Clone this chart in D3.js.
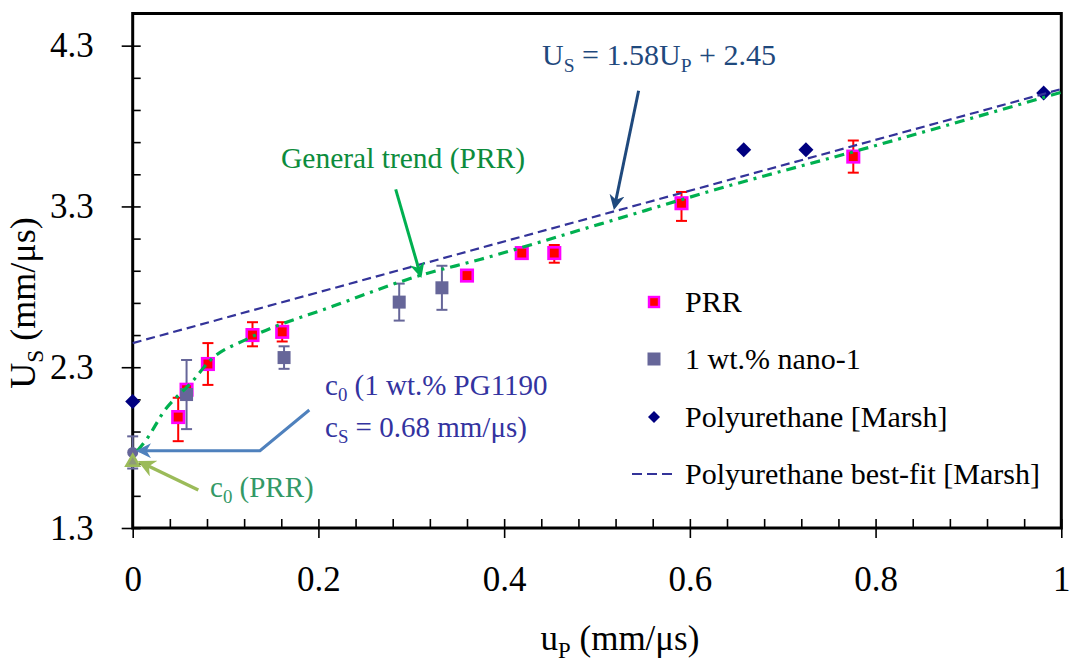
<!DOCTYPE html>
<html><head><meta charset="utf-8">
<script src="https://cdn.jsdelivr.net/npm/d3@7"></script>
<style>
body{margin:0;background:#fff}
svg{display:block}
text{font-family:"Liberation Serif","Times New Roman",serif}
</style>
</head><body>
<svg id="chart" width="1070" height="668"></svg>
<script>
// ---------- data ----------
const prrU      = [0.049, 0.058, 0.081, 0.129, 0.161, 0.360, 0.419, 0.454, 0.591, 0.776];
const prrUs     = [1.99,  2.16,  2.32,  2.50,  2.52,  2.87,  3.01,  3.01,  3.32,  3.61];
const prrErrHi  = [0.12,  0.00,  0.13,  0.08,  0.06,  0.02,  0.02,  0.05,  0.07,  0.10];
const prrErrLo  = [0.15,  0.00,  0.13,  0.07,  0.06,  0.02,  0.02,  0.06,  0.11,  0.10];

const nanoU     = [0.058, 0.163, 0.287, 0.333];
const nanoUs    = [2.13,  2.36,  2.705, 2.794];
const nanoErr   = [0.215, 0.07,  0.115, 0.137];

const c0NanoU = [0];   const c0NanoUs = [1.77]; const c0NanoErr = [0.10];
const c0PrrU  = [0];   const c0PrrUs  = [1.71];

const puU       = [0,     0.658, 0.725, 0.981];
const puUs      = [2.087, 3.653, 3.653, 4.005];

const fitU      = [0, 1];
const fitUs     = [2.45, 4.03];   // Us = 1.58 Up + 2.45

const trendU    = [0.005, 0.016, 0.033, 0.064, 0.083, 0.125, 0.216, 0.309, 0.374, 0.503, 0.643, 0.776, 1.0];
const trendUs   = [1.78,  1.86,  2.02,  2.21,  2.34,  2.48,  2.68,  2.87,  2.97,  3.19,  3.43,  3.64,  4.01];

const xTickVals   = [0, 0.2, 0.4, 0.6, 0.8, 1];
const xTickLabels = ["0", "0.2", "0.4", "0.6", "0.8", "1"];
const yTickVals   = [1.3, 2.3, 3.3, 4.3];
const yTickLabels = ["1.3", "2.3", "3.3", "4.3"];

const legendLabels = ["PRR", "1 wt.% nano-1", "Polyurethane [Marsh]", "Polyurethane best-fit [Marsh]"];

// ---------- layout ----------
const L = 132.7, R = 1061.3, T = 13.5, B = 528;
const svg = d3.select("#chart");
svg.append("rect").attr("width",1070).attr("height",668).attr("fill","#fff");

const x = d3.scaleLinear().domain([0,1]).range([L,R]);
const y = d3.scaleLinear().domain([1.3,4.5]).range([B,T]);

const xMinor = d3.range(0, 26).map(i => +(i*0.04).toFixed(2));
const yMinor = d3.range(0, 17).map(i => +(1.3 + i*0.2).toFixed(2));

// defs: arrowheads
const defs = svg.append("defs");
function arrowMarker(id, color){
  defs.append("marker").attr("id",id).attr("viewBox","0 0 10 10")
    .attr("refX",8).attr("refY",5).attr("markerWidth",5).attr("markerHeight",5)
    .attr("orient","auto-start-reverse").attr("markerUnits","strokeWidth")
    .append("path").attr("d","M0,0 L10,5 L0,10 L3,5 Z").attr("fill",color);
}
arrowMarker("aEq","#1F497D");
arrowMarker("aTrend","#00B050");
arrowMarker("aC0","#4F81BD");
arrowMarker("aPrr","#9BBB59");

// ---------- axes ----------
const fs = 35;
const gx = svg.append("g").attr("transform",`translate(0,${B})`)
  .call(d3.axisBottom(x).tickValues(xTickVals).tickFormat((d,i)=>xTickLabels[i]).tickSize(10).tickPadding(28));
const gxIn = svg.append("g").attr("transform",`translate(0,${B})`)
  .call(d3.axisTop(x).tickValues(xMinor).tickFormat("").tickSize(9));
const gy = svg.append("g").attr("transform",`translate(${L},0)`)
  .call(d3.axisLeft(y).tickValues(yTickVals).tickFormat((d,i)=>yTickLabels[i]).tickSize(11).tickPadding(28));
const gyIn = svg.append("g").attr("transform",`translate(${L},0)`)
  .call(d3.axisRight(y).tickValues(yMinor).tickFormat("").tickSize(8));
[gx,gxIn,gy,gyIn].forEach(g=>{
  g.select(".domain").remove();
  g.selectAll(".tick line").attr("stroke","#000").attr("stroke-width",1.6);
  g.selectAll(".tick text").attr("font-size",fs).attr("fill","#000")
    .attr("font-family",'"Liberation Serif","Times New Roman",serif');
});

// frame
svg.append("rect").attr("x",L).attr("y",T).attr("width",R-L).attr("height",B-T)
  .attr("fill","none").attr("stroke","#000").attr("stroke-width",3);

// rich text helper: parts = [[text, isSub]]
function rich(g, xx, yy, parts, size, color, anchor){
  const t = g.append("text").attr("x",xx).attr("y",yy).attr("font-size",size)
    .attr("fill",color).attr("text-anchor",anchor||"start");
  let sub = false;
  parts.forEach(p=>{
    const ts = t.append("tspan").text(p[0]);
    if(p[1]){ ts.attr("font-size",size*0.65).attr("dy",size*0.22); }
    else if(sub){ ts.attr("dy",-size*0.22); }
    sub = !!p[1];
  });
  return t;
}

// axis titles
rich(svg, 620, 650, [["u",0],["P",1],[" (mm/μs)",0]], 35, "#000", "middle");
const yt = svg.append("g").attr("transform","translate(35,303) rotate(-90)");
rich(yt, 0, 0, [["U",0],["S",1],[" (mm/μs)",0]], 36, "#000", "middle");

// ---------- data marks ----------
const plot = svg.append("g");

// error bars PRR
const cap = 5.5;
prrU.forEach((u,i)=>{
  if(prrErrHi[i]===0 && prrErrLo[i]===0) return;
  const cx=x(u), y1=y(prrUs[i]+prrErrHi[i]), y2=y(prrUs[i]-prrErrLo[i]);
  plot.append("line").attr("x1",cx).attr("x2",cx).attr("y1",y1).attr("y2",y2).attr("stroke","#FF0000").attr("stroke-width",2);
  [y1,y2].forEach(yy=>plot.append("line").attr("x1",cx-cap).attr("x2",cx+cap).attr("y1",yy).attr("y2",yy).attr("stroke","#FF0000").attr("stroke-width",2));
});
// error bars nano
function ebar(cx, yc, e, color){
  const y1=y(yc+e), y2=y(yc-e);
  plot.append("line").attr("x1",cx).attr("x2",cx).attr("y1",y1).attr("y2",y2).attr("stroke",color).attr("stroke-width",2);
  [y1,y2].forEach(yy=>plot.append("line").attr("x1",cx-cap).attr("x2",cx+cap).attr("y1",yy).attr("y2",yy).attr("stroke",color).attr("stroke-width",2));
}
nanoU.forEach((u,i)=>ebar(x(u), nanoUs[i], nanoErr[i], "#666699"));
c0NanoU.forEach((u,i)=>ebar(x(u), c0NanoUs[i], c0NanoErr[i], "#666699"));

// PRR squares
const sq = 11.5;
plot.selectAll(".prr").data(prrU).join("rect").attr("class","prr")
  .attr("x",(d)=>x(d)-sq/2).attr("y",(d,i)=>y(prrUs[i])-sq/2)
  .attr("width",sq).attr("height",sq).attr("fill","#FF0000").attr("stroke","#FF00FF").attr("stroke-width",2.6);

// nano squares
const nsq = 13;
plot.selectAll(".nano").data(nanoU).join("rect").attr("class","nano")
  .attr("x",d=>x(d)-nsq/2).attr("y",(d,i)=>y(nanoUs[i])-nsq/2)
  .attr("width",nsq).attr("height",nsq).attr("fill","#666699");

// c0 nano circle
plot.selectAll(".c0n").data(c0NanoU).join("circle").attr("class","c0n")
  .attr("cx",d=>x(d)).attr("cy",(d,i)=>y(c0NanoUs[i])).attr("r",5.5).attr("fill","#666699");
// c0 PRR triangle
plot.selectAll(".c0p").data(c0PrrU).join("path").attr("class","c0p")
  .attr("d",()=>d3.symbol(d3.symbolTriangle,70)())
  .attr("transform",(d,i)=>`translate(${x(d)},${y(c0PrrUs[i])})`)
  .attr("fill","#8e9a78").attr("stroke","#9BBB59").attr("stroke-width",2.5);

// Polyurethane diamonds
plot.selectAll(".pu").data(puU).join("path").attr("class","pu")
  .attr("d",()=>"M0,-7.5L7.5,0L0,7.5L-7.5,0Z")
  .attr("transform",(d,i)=>`translate(${x(d)},${y(puUs[i])})`).attr("fill","#000080");

// best-fit dashed line
plot.append("path").datum(fitU.map((u,i)=>[u,fitUs[i]]))
  .attr("d",d3.line().x(d=>x(d[0])).y(d=>y(d[1])))
  .attr("fill","none").attr("stroke","#333399").attr("stroke-width",2.2).attr("stroke-dasharray","9,5");

// general trend dash-dot
plot.append("path").datum(trendU.map((u,i)=>[u,trendUs[i]]))
  .attr("d",d3.line().curve(d3.curveMonotoneX).x(d=>x(d[0])).y(d=>y(d[1])))
  .attr("fill","none").attr("stroke","#00B050").attr("stroke-width",3.2).attr("stroke-dasharray","10,6,3,6");

// ---------- annotations ----------
const ann = svg.append("g");
rich(ann, 542, 65, [["U",0],["S",1],[" = 1.58U",0],["P",1],[" + 2.45",0]], 30, "#1F497D");
ann.append("line").attr("x1",638.6).attr("y1",90.7).attr("x2",614.5).attr("y2",207)
  .attr("stroke","#1F497D").attr("stroke-width",3).attr("marker-end","url(#aEq)");

ann.append("text").attr("x",281).attr("y",168).attr("font-size",29.5).attr("fill","#0C8C3C").text("General trend (PRR)");
ann.append("line").attr("x1",395.7).attr("y1",189.3).attr("x2",420.5).attr("y2",275)
  .attr("stroke","#00B050").attr("stroke-width",3).attr("marker-end","url(#aTrend)");

rich(ann, 325, 395, [["c",0],["0",1],[" (1 wt.% PG1190",0]], 29, "#3333A0");
rich(ann, 325, 437, [["c",0],["S",1],[" = 0.68 mm/μs)",0]], 29, "#3333A0");
ann.append("path").attr("d","M309.3,410 L260,450.7 L139,450.7")
  .attr("fill","none").attr("stroke","#4F81BD").attr("stroke-width",3).attr("marker-end","url(#aC0)");

rich(ann, 210, 497, [["c",0],["0",1],[" (PRR)",0]], 29, "#339966");
ann.append("line").attr("x1",198.3).attr("y1",490).attr("x2",141).attr("y2",462.5)
  .attr("stroke","#9BBB59").attr("stroke-width",3.5).attr("marker-end","url(#aPrr)");

// ---------- legend ----------
const lg = svg.append("g");
const legY = [302, 359, 417, 474];
const legX = 654;
lg.append("rect").attr("x",legX-5).attr("y",legY[0]-5).attr("width",10).attr("height",10)
  .attr("fill","#FF0000").attr("stroke","#FF00FF").attr("stroke-width",2.4);
lg.append("rect").attr("x",legX-6.5).attr("y",legY[1]-6.5).attr("width",13).attr("height",13).attr("fill","#666699");
lg.append("path").attr("d","M0,-6L6,0L0,6L-6,0Z").attr("transform",`translate(${legX},${legY[2]})`).attr("fill","#000080");
lg.append("line").attr("x1",632).attr("x2",674).attr("y1",legY[3]).attr("y2",legY[3])
  .attr("stroke","#333399").attr("stroke-width",2.2).attr("stroke-dasharray","10,5");
legendLabels.forEach((t,i)=>{
  lg.append("text").attr("x",685).attr("y",legY[i]+10).attr("font-size",30).attr("fill","#000").text(t);
});
</script>
</body></html>
